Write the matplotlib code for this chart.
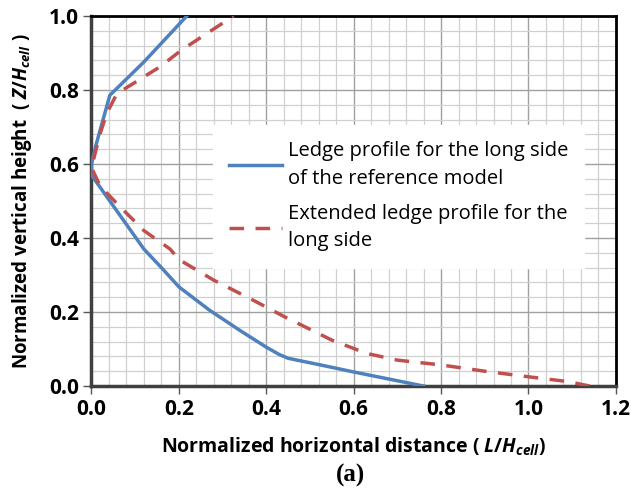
import matplotlib

matplotlib.use("Agg")
import matplotlib.pyplot as plt
from matplotlib.ticker import MultipleLocator

# ledge profiles (x = L/H_cell, z = Z/H_cell)
ref_x = [0.76, 0.60, 0.52, 0.45, 0.43, 0.40, 0.34, 0.27, 0.20, 0.16, 0.12,
         0.06, 0.0, 0.0, 0.01, 0.042, 0.12, 0.218]
ref_z = [0.0, 0.038, 0.058, 0.075, 0.085, 0.105, 0.15, 0.205, 0.268, 0.32,
         0.37, 0.47, 0.57, 0.60, 0.65, 0.786, 0.876, 1.0]

ext_x = [1.14, 1.09, 1.00, 0.90, 0.80, 0.70, 0.63, 0.55, 0.48, 0.45, 0.37,
         0.28, 0.20, 0.18, 0.12, 0.065, 0.02, 0.0, 0.02, 0.035, 0.058,
         0.157, 0.206, 0.325]
ext_z = [0.0, 0.012, 0.025, 0.04, 0.057, 0.07, 0.088, 0.124, 0.165, 0.182,
         0.232, 0.286, 0.342, 0.37, 0.42, 0.485, 0.54, 0.59, 0.683, 0.737,
         0.79, 0.863, 0.908, 1.0]

xticks = [0.0, 0.2, 0.4, 0.6, 0.8, 1.0, 1.2]
yticks = [0.0, 0.2, 0.4, 0.6, 0.8, 1.0]

labels = ["Ledge profile for the long side\nof the reference model",
          "Extended ledge profile for the\nlong side"]

plt.rcParams["font.family"] = ["Open Sans", "DejaVu Sans"]
plt.rcParams["mathtext.fontset"] = "custom"
plt.rcParams["mathtext.it"] = "Open Sans:italic:bold"
plt.rcParams["mathtext.rm"] = "Open Sans:bold"

fig = plt.figure(figsize=(6.31, 4.92), dpi=100)
ax = fig.add_axes([0.145, 0.2154, 0.831, 0.752])

ax.plot(ref_x, ref_z, color="#4F81BD", lw=2.5, label=labels[0], zorder=3)
ax.plot(ext_x, ext_z, color="#C0504D", lw=2.5, dashes=(4.2, 3.3),
        label=labels[1], zorder=3)

ax.set_xlim(0, 1.2)
ax.set_ylim(0, 1.0)
ax.xaxis.set_minor_locator(MultipleLocator(0.04))
ax.yaxis.set_minor_locator(MultipleLocator(0.04))
ax.grid(which="minor", color="#d0d0d0", lw=0.9)
ax.grid(which="major", color="#a0a0a0", lw=1.0)
ax.set_axisbelow(True)
ax.tick_params(which="minor", length=0)
ax.tick_params(which="major", length=6, width=1, color="#555555",
               labelsize=15, pad=3)
ax.set_xticks(xticks)
ax.set_xticklabels([f"{v:.1f}" for v in xticks], fontweight="bold")
ax.set_yticks(yticks)
ax.set_yticklabels([f"{v:.1f}" for v in yticks], fontweight="bold")

for side in ["left", "bottom"]:
    ax.spines[side].set_color("#404040")
    ax.spines[side].set_linewidth(2.5)
for side in ["top", "right"]:
    ax.spines[side].set_color("black")
    ax.spines[side].set_linewidth(2.0)

ax.set_xlabel(r"Normalized horizontal distance ( $L/H_{cell}$)",
              fontsize=14, fontweight="bold", labelpad=12)
ax.set_ylabel(r"Normalized vertical height  ( $Z/H_{cell}$ )",
              fontsize=13.5, fontweight="bold", labelpad=11)

leg = ax.legend(loc="upper left", bbox_to_anchor=(0.232, 0.705),
                borderaxespad=0, fontsize=14.5, frameon=True, fancybox=False,
                handlelength=2.6, handletextpad=0.3, labelspacing=0.75,
                borderpad=0.8)
for t in leg.get_texts():
    t.set_linespacing(1.5)
leg.get_frame().set_facecolor("white")
leg.get_frame().set_edgecolor("white")
leg.get_frame().set_alpha(1.0)
leg.set_zorder(5)

fig.text(0.555, 0.033, "(a)", fontsize=18, fontweight="bold",
         family="Liberation Serif", ha="center", va="center")

fig.savefig("out.png", dpi=100)
